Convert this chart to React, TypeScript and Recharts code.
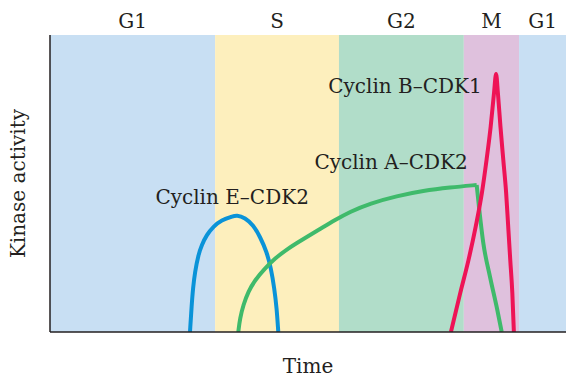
import { LineChart, Line, XAxis, YAxis, ReferenceArea, ReferenceDot, Label } from "recharts";

// cell-cycle phases along the time axis (0–100)
const phaseNames = ["G1", "S", "G2", "M", "G1"];
const phaseStart = [0, 32, 56, 80.2, 90.9];
const phaseEnd = [32, 56, 80.2, 90.9, 100];
const phaseFills = ["#c8dff3", "#fdefbd", "#b1ddc9", "#dfc1dd", "#c8dff3"];

// Cyclin E–CDK2
const eTime = [27.13, 27.46, 27.71, 28.1, 28.74, 29.4, 30.37, 31.65, 33.27, 35.21, 36.18, 37.79, 39.4, 40.7, 42.0, 42.83, 43.47, 43.93, 44.24];
const eActivity = [0, 9.1, 14.7, 20.3, 25.9, 29.3, 32.7, 35.5, 37.7, 38.8, 39.4, 38.5, 36.0, 32.1, 27.0, 21.5, 14.7, 8.1, 0];

// Cyclin A–CDK2 (peak at index 16, then a sharp fall)
const aTime = [36.49, 36.82, 37.46, 38.43, 39.73, 41.67, 43.6, 46.18, 48.78, 52.0, 55.23, 58.14, 62.02, 67.19, 72.34, 77.52, 82.69, 83.2, 83.97, 85.27, 86.69, 87.54];
const aActivity = [0, 4.6, 9.1, 13.6, 17.5, 21.4, 24.8, 28.2, 31.0, 34.3, 37.7, 40.5, 43.3, 45.8, 47.6, 48.7, 49.5, 41.1, 30.0, 18.6, 7.4, 0];
const aPeak = 16;

// Cyclin B–CDK1
const bTime = [77.7, 79.5, 81.1, 82.5, 83.7, 84.6, 85.4, 86.05, 86.45, 86.8, 87.3, 87.85, 88.4, 88.8, 89.2, 89.6, 89.9];
const bActivity = [0, 13.1, 24.2, 35.5, 46.8, 57.9, 69.1, 80.5, 86.9, 80.5, 69.1, 57.9, 46.8, 35.5, 24.2, 13.1, 0];

const curveNames = ["Cyclin E–CDK2", "Cyclin A–CDK2", "Cyclin B–CDK1"];
const curveLabelTime = [35.3, 66.1, 68.8];
const curveLabelActivity = [45.5, 57.3, 82.9];

const toPoints = (t: number[], a: number[]) => t.map((x, i) => ({ t: x, a: a[i] }));

const FONT = "'DejaVu Serif', serif";
const INK = "#231f20";
const SIZE = 20;

function YTitle(props: any) {
  const { viewBox } = props;
  const cx = 18;
  const cy = viewBox.y + viewBox.height / 2;
  return (
    <text x={cx} y={cy} transform={`rotate(-90 ${cx} ${cy})`} textAnchor="middle" dominantBaseline="central"
      fontFamily={FONT} fontSize={SIZE} fill={INK}>
      Kinase activity
    </text>
  );
}

function XTitle(props: any) {
  const { viewBox } = props;
  const cx = viewBox.x + viewBox.width / 2;
  return (
    <text x={cx} y={366} textAnchor="middle" dominantBaseline="central" fontFamily={FONT} fontSize={SIZE} fill={INK}>
      Time
    </text>
  );
}

export default function App() {
  const aPts = toPoints(aTime, aActivity);
  // green curve drawn in two pieces so the corner at its peak stays sharp
  const series = [
    { pts: toPoints(eTime, eActivity), color: "#0a93d8", curve: "basis" },
    { pts: aPts.slice(0, aPeak + 1), color: "#3fba6b", curve: "basis" },
    { pts: aPts.slice(aPeak), color: "#3fba6b", curve: "monotone" },
    { pts: toPoints(bTime, bActivity), color: "#ee1356", curve: "monotone" },
  ];

  return (
    <div>
      <style>{`body{margin:0}`}</style>
      <LineChart width={566} height={380} margin={{ top: 35, right: 0, bottom: 0, left: 0 }}>
        <XAxis type="number" dataKey="t" domain={[0, 100]} tick={false} tickLine={false} height={48}
          axisLine={{ stroke: INK, strokeWidth: 1.5 }} allowDataOverflow>
          <Label content={<XTitle />} />
        </XAxis>
        <YAxis type="number" dataKey="a" domain={[0, 100]} tick={false} tickLine={false} width={50}
          axisLine={{ stroke: INK, strokeWidth: 1.5 }} allowDataOverflow>
          <Label content={<YTitle />} />
        </YAxis>
        {phaseNames.map((name, i) => (
          <ReferenceArea key={i} x1={phaseStart[i]} x2={phaseEnd[i]} y1={0} y2={100} fill={phaseFills[i]}
            fillOpacity={1} stroke="none" ifOverflow="extendDomain">
            <Label value={name} position="top" offset={7} fontFamily={FONT} fontSize={SIZE} fill={INK} />
          </ReferenceArea>
        ))}
        {series.map((s, i) => (
          <Line key={i} data={s.pts} dataKey="a" type={s.curve as any} stroke={s.color} strokeWidth={4}
            strokeLinejoin="round" dot={false} activeDot={false} isAnimationActive={false} />
        ))}
        {curveNames.map((name, i) => (
          <ReferenceDot key={name} x={curveLabelTime[i]} y={curveLabelActivity[i]} r={0} stroke="none" fill="none">
            <Label value={name} position="center" fontFamily={FONT} fontSize={SIZE} fill={INK} />
          </ReferenceDot>
        ))}
      </LineChart>
    </div>
  );
}
